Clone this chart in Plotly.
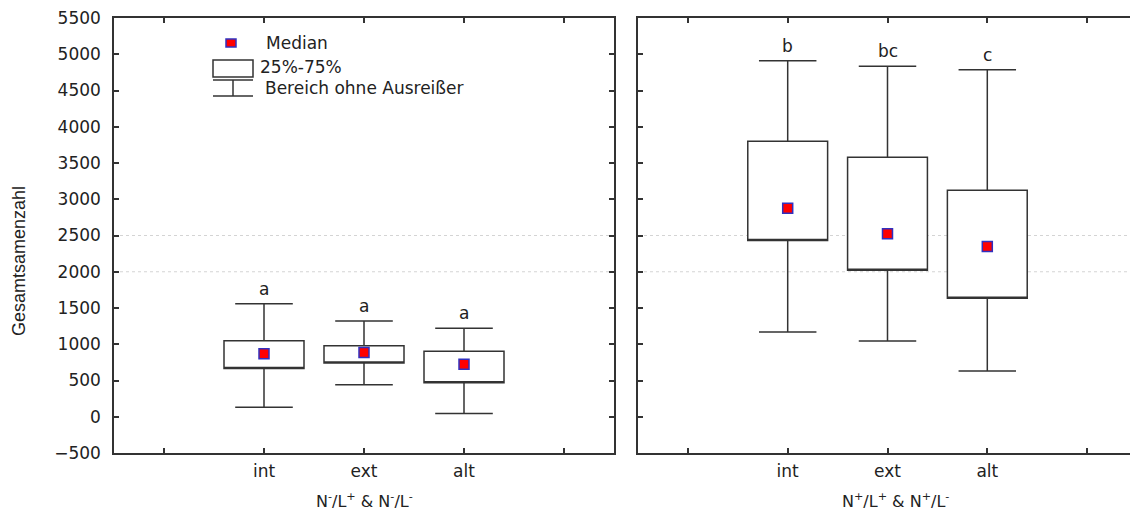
import plotly.graph_objects as go

# ---------------- data ----------------
categories = ["int", "ext", "alt"]

left_q1 = [665, 740, 470]
left_median = [870, 885, 725]
left_q3 = [1050, 980, 905]
left_low = [130, 440, 45]
left_high = [1560, 1320, 1220]
left_letters = ["a", "a", "a"]

right_q1 = [2430, 2020, 1635]
right_median = [2875, 2525, 2350]
right_q3 = [3800, 3580, 3125]
right_low = [1170, 1045, 630]
right_high = [4910, 4835, 4785]
right_letters = ["b", "bc", "c"]

left_title = "N<sup>-</sup>/L<sup>+</sup> &amp; N<sup>-</sup>/L<sup>-</sup>"
right_title = "N<sup>+</sup>/L<sup>+</sup> &amp; N<sup>+</sup>/L<sup>-</sup>"
y_title = "Gesamtsamenzahl"
legend_labels = ["Median", "25%-75%", "Bereich ohne Ausreißer"]
grid_levels = [2000, 2500]

# ---------------- layout constants ----------------
# page body has an 8px margin; compensate so the plot lands where the reference is
OFF = 8
W, H = 1138, 516
ML, MR, MT, MB = 114 - OFF, 9, 18 - OFF, 516 - 453 + OFF
PW = W - ML - MR
PH = H - MT - MB
FONT = "DejaVu Sans"
TXT = "#222222"
LINE = "#333333"


def px(x):
    return (x - OFF - ML) / PW


def py(y):
    return (H - MB - (y - OFF)) / PH


positions = [i + 1 for i in range(len(categories))]

fig = go.Figure()

panels = [
    ("x", "y", left_q1, left_median, left_q3, left_low, left_high, left_letters),
    ("x2", "y2", right_q1, right_median, right_q3, right_low, right_high, right_letters),
]

for xa, ya, q1, med, q3, lo, hi, letters in panels:
    fig.add_trace(go.Box(
        x=positions, q1=q1, median=q1, q3=q3, lowerfence=lo, upperfence=hi,
        width=0.8, whiskerwidth=0.72, fillcolor="white",
        line=dict(color=LINE, width=1.5), boxpoints=False,
        hoverinfo="skip", showlegend=False, xaxis=xa, yaxis=ya,
    ))
    fig.add_trace(go.Scatter(
        x=positions, y=med, mode="markers",
        marker=dict(symbol="square", size=10, color="#ff0000",
                    line=dict(color="#3030c0", width=1.5)),
        showlegend=False, hoverinfo="skip", xaxis=xa, yaxis=ya,
    ))
    for p, h, t in zip(positions, hi, letters):
        fig.add_annotation(x=p, y=h, xref=xa, yref=ya, text=t, showarrow=False,
                           yanchor="bottom", yshift=3,
                           font=dict(family=FONT, size=17, color=TXT))
    for g in grid_levels:
        fig.add_shape(type="line", xref=xa, yref=ya, x0=-0.5, x1=4.5, y0=g, y1=g,
                      line=dict(color="#d4d4d4", width=1, dash="dot"), layer="below")

axis_common = dict(
    showline=True, linecolor=LINE, linewidth=1.5, mirror="ticks",
    ticks="inside", ticklen=5, tickcolor=LINE, tickwidth=1.5,
    showgrid=False, zeroline=False, automargin=False,
    ticklabeloverflow="allow",
    tickfont=dict(family=FONT, size=17, color=TXT),
)

fig.update_layout(
    width=W, height=H,
    margin=dict(l=ML, r=MR, t=MT, b=MB),
    plot_bgcolor="white", paper_bgcolor="white",
    showlegend=False,
    font=dict(family=FONT, size=17, color=TXT),
    xaxis=dict(domain=[0, 500 / PW], range=[-0.5, 4.5],
               tickvals=[0] + positions + [4], ticktext=[""] + categories + [""],
               ticklabelstandoff=2, **axis_common),
    xaxis2=dict(domain=[524 / PW, 1], range=[-0.5, 4.5], anchor="y2",
                tickvals=[0] + positions + [4], ticktext=[""] + categories + [""],
                ticklabelstandoff=2, **axis_common),
    yaxis=dict(range=[-500, 5500], dtick=500, tick0=0, ticklabelstandoff=8,
               **axis_common),
    yaxis2=dict(range=[-500, 5500], dtick=500, tick0=0, anchor="x2",
                showticklabels=False, **axis_common),
)

# axis titles
fig.add_annotation(x=px(364), y=py(500), xref="paper", yref="paper", text=left_title,
                   showarrow=False, xanchor="center", yanchor="middle",
                   font=dict(family=FONT, size=16, color=TXT))
fig.add_annotation(x=px(895), y=py(500), xref="paper", yref="paper", text=right_title,
                   showarrow=False, xanchor="center", yanchor="middle",
                   font=dict(family=FONT, size=16, color=TXT))
fig.add_annotation(x=px(19), y=py(261), xref="paper", yref="paper", text=y_title,
                   showarrow=False, textangle=-90, xanchor="center", yanchor="middle",
                   font=dict(family="Liberation Sans", size=18, color=TXT))

# custom legend
fig.add_shape(type="rect", xref="paper", yref="paper",
              x0=px(226), x1=px(236), y0=py(47), y1=py(39),
              fillcolor="#ff0000", line=dict(color="#3030c0", width=1.5))
fig.add_shape(type="rect", xref="paper", yref="paper",
              x0=px(213), x1=px(253), y0=py(77), y1=py(60),
              fillcolor="white", line=dict(color=LINE, width=1.5))
for yy in (80, 96):
    fig.add_shape(type="line", xref="paper", yref="paper",
                  x0=px(213), x1=px(253), y0=py(yy), y1=py(yy),
                  line=dict(color=LINE, width=1.5))
fig.add_shape(type="line", xref="paper", yref="paper",
              x0=px(233), x1=px(233), y0=py(80), y1=py(96),
              line=dict(color=LINE, width=1.5))
for lbl, xx, yy in zip(legend_labels, (264, 258, 263), (43, 67, 88)):
    fig.add_annotation(x=px(xx), y=py(yy), xref="paper", yref="paper", text=lbl,
                       showarrow=False, xanchor="left", yanchor="middle",
                       font=dict(family=FONT, size=17, color=TXT))

fig.write_html("out.html")
